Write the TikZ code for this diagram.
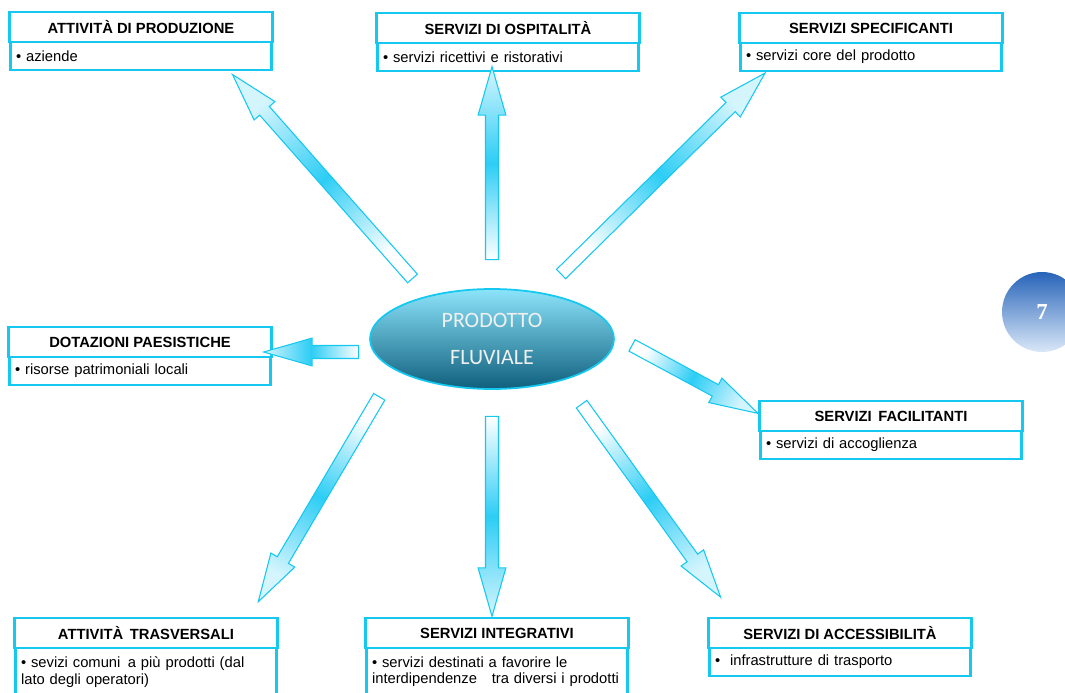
\documentclass[tikz,border=0pt]{standalone}
\usepackage{fontspec}
\setmainfont{Liberation Sans}
\newfontfamily\ovalfont{Carlito}
\newfontfamily\numfont{Liberation Serif}
\usetikzlibrary{positioning,calc,shapes.geometric,shapes.arrows}
\definecolor{boxcyan}{RGB}{20,200,240}
\definecolor{arrowcyan}{RGB}{45,205,245}
\definecolor{ovaltop}{RGB}{140,228,250}
\definecolor{ovalmid}{RGB}{55,170,205}
\definecolor{ovalbot}{RGB}{15,95,125}
\definecolor{pagetop}{RGB}{40,100,185}
\definecolor{pagebot}{RGB}{218,232,248}

\tikzset{
  head/.style={rectangle, draw=boxcyan, line width=1.6pt, fill=white, outer sep=0pt,
    minimum width=5.26cm, minimum height=0.6cm, inner sep=0pt,
    font=\fontsize{8.4}{10}\selectfont\bfseries},
  body/.style={rectangle, draw=boxcyan, line width=1.6pt, fill=white, outer sep=0pt,
    text width=5.0cm, inner xsep=3pt, inner ysep=2pt, minimum height=0.56cm, align=left,
    font=\fontsize{8.4}{9.6}\selectfont},
  flowarrow/.style={single arrow, draw=boxcyan, line width=0.6pt, inner sep=0pt,
    inner ysep=3.4pt, single arrow head extend=4.2pt, single arrow tip angle=32,
    left color=white!80!arrowcyan, right color=white, middle color=arrowcyan},
}

% block arrow between two named points
\newcommand{\fatarrow}[2]{%
  \path let \p1=($(#2)-(#1)$), \n1={atan2(\y1,\x1)}, \n2={veclen(\x1,\y1)},
    \n3={\n1-90} in
    node[flowarrow, minimum height=\n2, rotate=\n1, shading angle=\n3]
      at ($(#1)!0.5!(#2)$) {};}

\begin{document}
\begin{tikzpicture}[x=0.02cm, y=-0.02cm]
\useasboundingbox (0,0) rectangle (1065,693);

% centre
\node[ellipse, draw=boxcyan, line width=1pt, top color=ovaltop, middle color=ovalmid,
  bottom color=ovalbot, minimum width=4.88cm, minimum height=2cm, align=center,
  text=white!88!gray, font=\ovalfont\fontsize{12.5}{21}\selectfont]
  (prod) at (492,339) {PRODOTTO\\FLUVIALE};

% page number
\node[circle, minimum size=1.6cm, top color=pagetop, bottom color=pagebot, text=white,
  font=\numfont\bfseries\fontsize{13}{15}\selectfont] (page) at (1042,312) {7};

% boxes
\node[head] (prodh) at (141,27) {ATTIVITÀ DI PRODUZIONE};
\node[body, below=0pt of prodh] (prodb) {\textbullet{} aziende};

\node[head] (osph) at (508,28) {SERVIZI DI OSPITALITÀ};
\node[body, below=0pt of osph] (ospb) {\textbullet{} servizi ricettivi e ristorativi};

\node[head] (spech) at (871,28) {SERVIZI SPECIFICANTI};
\node[body, below=0pt of spech] (specb) {\textbullet{} servizi core del prodotto};

\node[head] (dotah) at (140,342) {DOTAZIONI PAESISTICHE};
\node[body, below=0pt of dotah] (dotab) {\textbullet{} risorse patrimoniali locali};

\node[head] (facih) at (891,416) {SERVIZI\, FACILITANTI};
\node[body, below=0pt of facih] (facib) {\textbullet{} servizi di accoglienza};

\node[head] (trash) at (146,633) {ATTIVITÀ\, TRASVERSALI};
\node[body, below=0pt of trash, minimum height=0.95cm] (trasb)
  {\textbullet{} sevizi comuni\, a più prodotti (dal\\lato degli operatori)};

\node[head] (integh) at (497,633) {SERVIZI INTEGRATIVI};
\node[body, below=0pt of integh, minimum height=0.95cm] (integb)
  {\textbullet{} servizi destinati a favorire le\\interdipendenze\ \ \ tra diversi i prodotti};

\node[head] (acch) at (840,633) {SERVIZI DI ACCESSIBILITÀ};
\node[body, below=0pt of acch] (accb) {\textbullet{}\ \ infrastrutture di trasporto};

% arrow ends
\coordinate (t1) at (420,287); \coordinate (p1) at (240,83);
\coordinate (t2) at (492,271); \coordinate (p2) at (492,78);
\coordinate (t3) at (553,282); \coordinate (p3) at (757,81);
\coordinate (t4) at (370,352); \coordinate (p4) at (275,352);
\coordinate (t5) at (622,340); \coordinate (p5) at (748,408);
\coordinate (t6) at (385,387); \coordinate (p6) at (264,592);
\coordinate (t7) at (492,405); \coordinate (p7) at (492,605);
\coordinate (t8) at (575,395); \coordinate (p8) at (714,588);

\foreach \i in {1,...,8} {\fatarrow{t\i}{p\i}}
\end{tikzpicture}
\end{document}
